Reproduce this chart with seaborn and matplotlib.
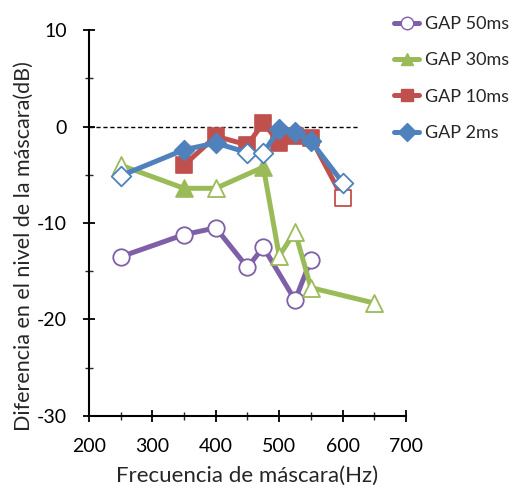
import matplotlib
matplotlib.use("Agg")
import matplotlib.pyplot as plt
import seaborn as sns
import pandas as pd
from matplotlib.ticker import MultipleLocator
from matplotlib.lines import Line2D

sns.set_style("white")
plt.rcParams['font.family'] = ['Lato', 'DejaVu Sans']
plt.rcParams['axes.unicode_minus'] = False

# Data (Hz, dB difference, filled marker?)
freq_50 = [250, 350, 400, 450, 475, 525, 550]
val_50 = [-13.5, -11.2, -10.5, -14.6, -12.5, -18.0, -13.8]
fill_50 = [False, False, False, False, False, False, False]

freq_30 = [250, 350, 400, 475, 500, 525, 550, 650]
val_30 = [-4.0, -6.4, -6.4, -4.2, -13.4, -10.9, -16.7, -18.3]
fill_30 = [False, True, False, True, False, False, False, False]

freq_10 = [350, 400, 450, 475, 500, 525, 550, 600]
val_10 = [-4.0, -1.0, -1.9, 0.4, -1.7, -1.0, -1.2, -7.4]
fill_10 = [True, True, True, True, True, True, True, False]

freq_2 = [250, 350, 400, 450, 475, 500, 525, 550, 600]
val_2 = [-5.1, -2.4, -1.7, -2.7, -2.7, -0.3, -0.6, -1.5, -5.8]
fill_2 = [False, True, True, False, False, True, True, True, False]

series_names = ["GAP 50ms", "GAP 30ms", "GAP 10ms", "GAP 2ms"]
colors = ["#7f5fa8", "#9bbb59", "#c0504d", "#4f81bd"]
markers = ["o", "^", "s", "D"]
sizes = [140, 150, 130, 100]
legend_filled = [False, True, True, True]

fig = plt.figure(figsize=(5.14, 4.94), dpi=100)
ax = fig.add_axes([0.173, 0.158, 0.617, 0.781])

all_series = [(freq_50, val_50, fill_50), (freq_30, val_30, fill_30),
              (freq_10, val_10, fill_10), (freq_2, val_2, fill_2)]

for i, (f, v, fl) in enumerate(all_series):
    df = pd.DataFrame({"freq": f, "val": v, "filled": fl})
    sns.lineplot(data=df, x="freq", y="val", color=colors[i], linewidth=3.6,
                 sort=False, ax=ax, zorder=2 + i)
    d_f = df[df["filled"]]
    d_o = df[~df["filled"]]
    if len(d_f):
        sns.scatterplot(data=d_f, x="freq", y="val", marker=markers[i], s=sizes[i],
                        color=colors[i], edgecolor=colors[i], linewidth=1.2,
                        ax=ax, zorder=3 + i)
    if len(d_o):
        sns.scatterplot(data=d_o, x="freq", y="val", marker=markers[i], s=sizes[i],
                        facecolor="white", edgecolor=colors[i], linewidth=1.3,
                        ax=ax, zorder=3 + i)

ax.plot([200, 625], [0, 0], linestyle=(0, (3, 2)), color="black", linewidth=1.0, zorder=1)

ax.set_xlim(200, 700)
ax.set_ylim(-30, 10)
ax.xaxis.set_major_locator(MultipleLocator(100))
ax.xaxis.set_minor_locator(MultipleLocator(50))
ax.yaxis.set_major_locator(MultipleLocator(10))
ax.yaxis.set_minor_locator(MultipleLocator(5))
ax.tick_params(axis="both", which="major", direction="inout", length=8, width=1.3,
               labelsize=14, colors="black")
ax.tick_params(axis="x", which="major", pad=12)
ax.tick_params(axis="y", which="major", pad=12)
ax.tick_params(axis="both", which="minor", direction="inout", length=6, width=1.0)
ax.tick_params(axis="x", which="both", bottom=True)
ax.tick_params(axis="y", which="both", left=True)
for s in ["top", "right"]:
    ax.spines[s].set_visible(False)
for s in ["left", "bottom"]:
    ax.spines[s].set_linewidth(1.5)
    ax.spines[s].set_color("black")

ax.set_xlabel("Frecuencia de máscara(Hz)", fontsize=16, labelpad=8)
ax.set_ylabel("Diferencia en el nivel de la máscara(dB)", fontsize=15.5)
ax.yaxis.set_label_coords(-0.175, 0.44)

handles = []
for i in range(4):
    handles.append(Line2D([0], [0], color=colors[i], linewidth=3.6, marker=markers[i],
                          markersize=9,
                          markerfacecolor=colors[i] if legend_filled[i] else "white",
                          markeredgecolor=colors[i]))
fig.legend(handles, series_names, loc="upper left", bbox_to_anchor=(0.735, 1.0),
           frameon=False, fontsize=13, handlelength=1.4, labelspacing=1.12,
           handletextpad=0.3)

fig.savefig("out.png", dpi=100)
